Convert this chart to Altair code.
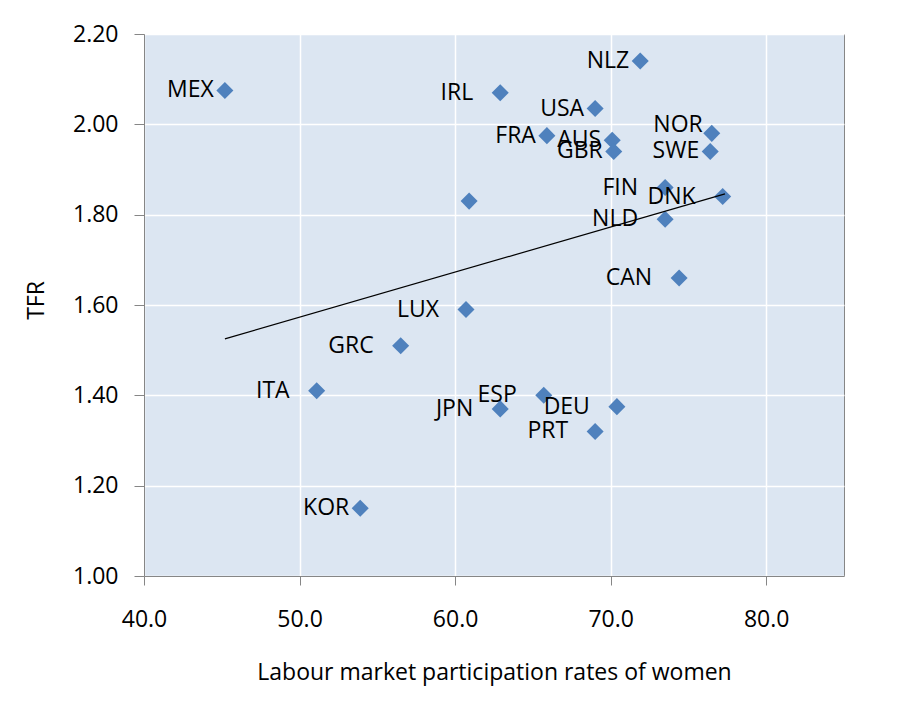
import altair as alt
import pandas as pd

# ---- data ----
countries = ["MEX", "IRL", "NLZ", "USA", "FRA", "AUS", "GBR", "NOR", "SWE", "FIN", "DNK",
             "NLD", "", "CAN", "LUX", "GRC", "ITA", "ESP", "JPN", "DEU", "PRT", "KOR"]
participation = [45.2, 62.9, 71.9, 69.0, 65.9, 70.1, 70.2, 76.5, 76.4, 73.5, 77.2,
                 73.5, 60.9, 74.4, 60.7, 56.5, 51.1, 65.7, 62.9, 70.4, 69.0, 53.9]
tfr = [2.075, 2.07, 2.14, 2.035, 1.975, 1.965, 1.94, 1.98, 1.94, 1.86, 1.84,
       1.79, 1.83, 1.66, 1.59, 1.51, 1.41, 1.40, 1.37, 1.375, 1.32, 1.15]

trend_x = [45.2, 77.35]
trend_y = [1.525, 1.846]

x_ticks = [40, 50, 60, 70, 80]
y_ticks = [1.0, 1.2, 1.4, 1.6, 1.8, 2.0, 2.2]

# label placement groups (labels sit left of their marker)
near_labels = ["MEX", "NLZ", "USA", "FRA", "AUS", "GBR", "SWE", "KOR"]
raised_labels = ["NOR"]

df = pd.DataFrame({"country": countries, "x": participation, "y": tfr})
trend = pd.DataFrame({"x": trend_x, "y": trend_y})

FONT = "Open Sans"
FS = 23
GRAY = "#868686"

x_scale = alt.Scale(domain=[40, 85], nice=False, zero=False)
y_scale = alt.Scale(domain=[1.0, 2.2], nice=False, zero=False)

x_axis = alt.Axis(values=x_ticks, format=".1f", grid=True, gridColor="white", gridWidth=1.5,
                  domainColor=GRAY, tickColor=GRAY, tickSize=9, labelFont=FONT,
                  labelFontSize=FS, labelColor="black", labelPadding=23, labelFlush=False,
                  title="Labour market participation rates of women", titleFont=FONT,
                  titleFontSize=FS, titleFontWeight="normal", titleColor="black",
                  titleX=350, titleY=96, titleAlign="center", titleBaseline="middle")
y_axis = alt.Axis(values=y_ticks, format=".2f", grid=True, gridColor="white", gridWidth=1.5,
                  domainColor=GRAY, tickColor=GRAY, tickSize=10, labelFont=FONT,
                  labelFontSize=FS, labelColor="black", labelPadding=16, labelFlush=False,
                  title="TFR", titleFont=FONT, titleFontSize=FS, titleFontWeight="normal",
                  titleColor="black", titleX=-108, titleY=266, titleAlign="center",
                  titleBaseline="middle")

base = alt.Chart(df)

points = base.mark_point(shape="diamond", filled=True, size=290, color="#4f81bd",
                         opacity=1).encode(
    x=alt.X("x:Q", scale=x_scale, axis=x_axis),
    y=alt.Y("y:Q", scale=y_scale, axis=y_axis),
)

text_kw = dict(align="right", baseline="middle", font=FONT, fontSize=FS, color="black")
enc = dict(x=alt.X("x:Q", scale=x_scale), y=alt.Y("y:Q", scale=y_scale), text="country:N")

labelled = base.transform_filter("isValid(datum.country) && datum.country != ''")

far_text = labelled.transform_filter(
    ~alt.FieldOneOfPredicate(field="country", oneOf=near_labels + raised_labels)
).mark_text(dx=-27, **text_kw).encode(**enc)

near_text = labelled.transform_filter(
    alt.FieldOneOfPredicate(field="country", oneOf=near_labels)
).mark_text(dx=-11, **text_kw).encode(**enc)

raised_text = labelled.transform_filter(
    alt.FieldOneOfPredicate(field="country", oneOf=raised_labels)
).mark_text(dx=-9, dy=-8, **text_kw).encode(**enc)

trend_line = alt.Chart(trend).mark_line(color="black", strokeWidth=1.2).encode(
    x=alt.X("x:Q", scale=x_scale), y=alt.Y("y:Q", scale=y_scale)
)

chart = alt.layer(points, far_text, near_text, raised_text, trend_line).properties(
    width=700, height=542,
    autosize=alt.AutoSizeParams(type="none"),
    padding={"left": 136, "top": 26, "right": 46, "bottom": 138},
    background="white",
).configure_view(stroke=GRAY, fill="#dce6f2")

chart.save("out.html", embed_options={"renderer": "svg", "actions": False})
